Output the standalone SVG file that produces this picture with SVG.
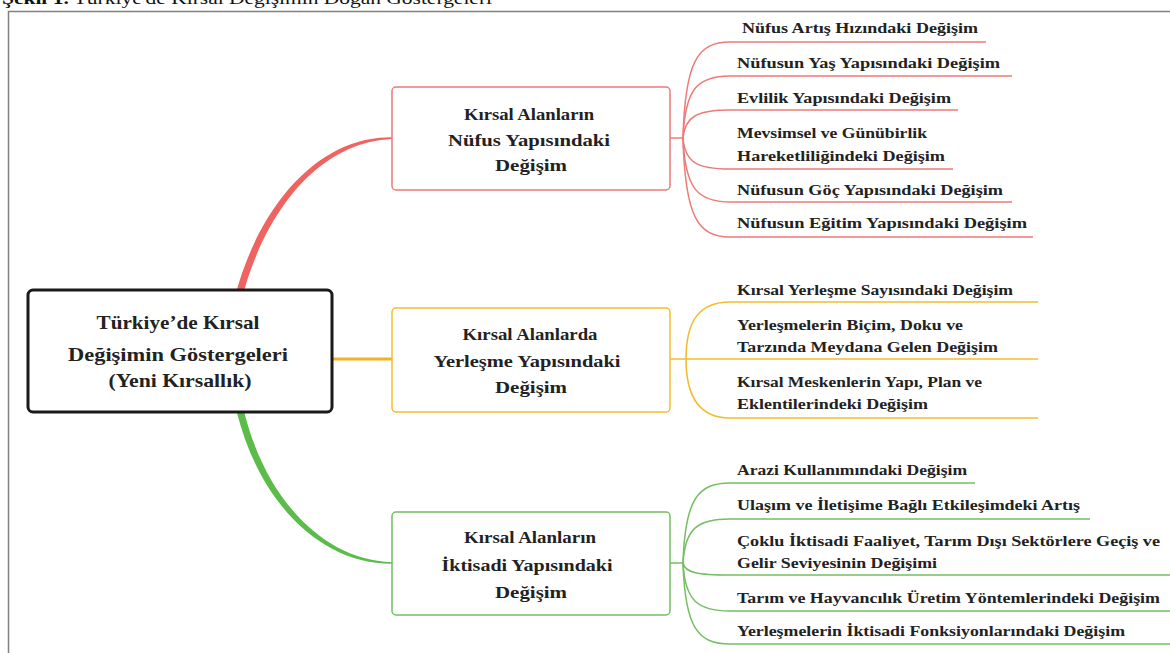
<svg xmlns="http://www.w3.org/2000/svg" width="1170" height="653" viewBox="0 0 1170 653">
<style>
text{font-family:"Liberation Serif","Times New Roman",serif;fill:#222;font-weight:bold}
.leaf{font-size:15.5px}
.nt{font-size:17px;text-anchor:middle}
.rt{font-size:19px;text-anchor:middle}
.r{stroke:#ee7a7a;fill:none;stroke-width:1.5}
.y{stroke:#f2bd2c;fill:none;stroke-width:1.6}
.g{stroke:#74be63;fill:none;stroke-width:1.5}
</style>
<rect width="1170" height="653" fill="#fff"/>
<text x="2" y="3.5" textLength="490" lengthAdjust="spacingAndGlyphs" style="font-size:17px;font-weight:normal;fill:#111"><tspan font-weight="bold">Şekil 1.</tspan> Türkiye'de Kırsal Değişimin Doğan Göstergeleri</text>
<rect x="8.5" y="11.5" width="1200" height="700" fill="none" stroke="#808080" stroke-width="1.5"/>
<g id="connectors">
<path d="M236.5,291 C261,204 319,136.5 392,137.3 L392,138.9 C321,142 268,207 244,291 Z" fill="#ef6461"/>
<path d="M332,359 L392,359" stroke="#f5b21e" stroke-width="3" fill="none"/>
<path d="M236.5,411 C259,502 320,564 392,563.8 L392,562.2 C322,560 265,497 244,411 Z" fill="#5bbc4a"/>
<path class="r" d="M670,138 L683,138"/>
<path class="r" d="M683,138 C685,61 698,42 730,42 L986,42"/>
<path class="r" d="M683,138 C685,88 698,76 730,76 L1012,76"/>
<path class="r" d="M683,138 C685,116 698,110 730,110 L958,110"/>
<path class="r" d="M683,138 C685,163 698,169 730,169 L953,169"/>
<path class="r" d="M683,138 C685,189 698,202 730,202 L1012,202"/>
<path class="r" d="M683,138 C685,217 698,237 730,237 L1033,237"/>
<path class="y" d="M670,359 L1038,359"/>
<path class="y" d="M686,359 C686,320 700,302 730,302 L1038,302"/>
<path class="y" d="M686,359 C686,398 700,418 730,418 L1038,418"/>
<path class="g" d="M670,563 L683,563"/>
<path class="g" d="M683,563 C685,499 698,483 730,483 L975,483"/>
<path class="g" d="M683,563 C685,528 698,519 730,519 L1090,519"/>
<path class="g" d="M683,563 C685,573 698,575 730,575 L1170,575"/>
<path class="g" d="M683,563 C685,601 698,611 730,611 L1170,611"/>
<path class="g" d="M683,563 C685,628 698,644 730,644 L1170,644"/>
</g>
<g id="root">
<rect x="28" y="290" width="304" height="122" rx="5" fill="#fff" stroke="#1a1a1a" stroke-width="3"/>
<text class="rt" x="178" y="329" textLength="163" lengthAdjust="spacingAndGlyphs">Türkiye’de Kırsal</text>
<text class="rt" x="178" y="361" textLength="220" lengthAdjust="spacingAndGlyphs">Değişimin Göstergeleri</text>
<text class="rt" x="180" y="387" textLength="143" lengthAdjust="spacingAndGlyphs">(Yeni Kırsallık)</text>
</g>
<g id="node-nufus">
<rect x="392" y="87" width="278" height="103" rx="4" fill="#fff" stroke="#ee7a7a" stroke-width="1.5"/>
<text class="nt" x="529" y="120" textLength="130" lengthAdjust="spacingAndGlyphs">Kırsal Alanların</text>
<text class="nt" x="529" y="146" textLength="162" lengthAdjust="spacingAndGlyphs">Nüfus Yapısındaki</text>
<text class="nt" x="531" y="171" textLength="72" lengthAdjust="spacingAndGlyphs">Değişim</text>
</g>
<g id="node-yerlesme">
<rect x="392" y="308" width="278" height="104" rx="4" fill="#fff" stroke="#f2bd2c" stroke-width="1.5"/>
<text class="nt" x="530" y="340" textLength="135" lengthAdjust="spacingAndGlyphs">Kırsal Alanlarda</text>
<text class="nt" x="527" y="367" textLength="187" lengthAdjust="spacingAndGlyphs">Yerleşme Yapısındaki</text>
<text class="nt" x="531" y="393" textLength="72" lengthAdjust="spacingAndGlyphs">Değişim</text>
</g>
<g id="node-iktisadi">
<rect x="392" y="512" width="278" height="103" rx="4" fill="#fff" stroke="#74be63" stroke-width="1.5"/>
<text class="nt" x="530" y="543" textLength="132" lengthAdjust="spacingAndGlyphs">Kırsal Alanların</text>
<text class="nt" x="527" y="571" textLength="171" lengthAdjust="spacingAndGlyphs">İktisadi Yapısındaki</text>
<text class="nt" x="531" y="598" textLength="72" lengthAdjust="spacingAndGlyphs">Değişim</text>
</g>
<g id="leaves-nufus">
<text class="leaf" x="742" y="33" textLength="236" lengthAdjust="spacingAndGlyphs">Nüfus Artış Hızındaki Değişim</text>
<text class="leaf" x="737" y="68" textLength="263" lengthAdjust="spacingAndGlyphs">Nüfusun Yaş Yapısındaki Değişim</text>
<text class="leaf" x="737" y="103" textLength="214" lengthAdjust="spacingAndGlyphs">Evlilik Yapısındaki Değişim</text>
<text class="leaf" x="737" y="138" textLength="190" lengthAdjust="spacingAndGlyphs">Mevsimsel ve Günübirlik</text>
<text class="leaf" x="737" y="161" textLength="208" lengthAdjust="spacingAndGlyphs">Hareketliliğindeki Değişim</text>
<text class="leaf" x="737" y="195" textLength="266" lengthAdjust="spacingAndGlyphs">Nüfusun Göç Yapısındaki Değişim</text>
<text class="leaf" x="737" y="228" textLength="290" lengthAdjust="spacingAndGlyphs">Nüfusun Eğitim Yapısındaki Değişim</text>
</g>
<g id="leaves-yerlesme">
<text class="leaf" x="737" y="295" textLength="276" lengthAdjust="spacingAndGlyphs">Kırsal Yerleşme Sayısındaki Değişim</text>
<text class="leaf" x="737" y="330" textLength="226" lengthAdjust="spacingAndGlyphs">Yerleşmelerin Biçim, Doku ve</text>
<text class="leaf" x="737" y="352" textLength="261" lengthAdjust="spacingAndGlyphs">Tarzında Meydana Gelen Değişim</text>
<text class="leaf" x="737" y="387" textLength="245" lengthAdjust="spacingAndGlyphs">Kırsal Meskenlerin Yapı, Plan ve</text>
<text class="leaf" x="737" y="409" textLength="191" lengthAdjust="spacingAndGlyphs">Eklentilerindeki Değişim</text>
</g>
<g id="leaves-iktisadi">
<text class="leaf" x="737" y="475" textLength="230" lengthAdjust="spacingAndGlyphs">Arazi Kullanımındaki Değişim</text>
<text class="leaf" x="737" y="510" textLength="343" lengthAdjust="spacingAndGlyphs">Ulaşım ve İletişime Bağlı Etkileşimdeki Artış</text>
<text class="leaf" x="737" y="546" textLength="423" lengthAdjust="spacingAndGlyphs">Çoklu İktisadi Faaliyet, Tarım Dışı Sektörlere Geçiş ve</text>
<text class="leaf" x="737" y="568" textLength="200" lengthAdjust="spacingAndGlyphs">Gelir Seviyesinin Değişimi</text>
<text class="leaf" x="737" y="603" textLength="423" lengthAdjust="spacingAndGlyphs">Tarım ve Hayvancılık Üretim Yöntemlerindeki Değişim</text>
<text class="leaf" x="737" y="636" textLength="388" lengthAdjust="spacingAndGlyphs">Yerleşmelerin İktisadi Fonksiyonlarındaki Değişim</text>
</g>
</svg>
